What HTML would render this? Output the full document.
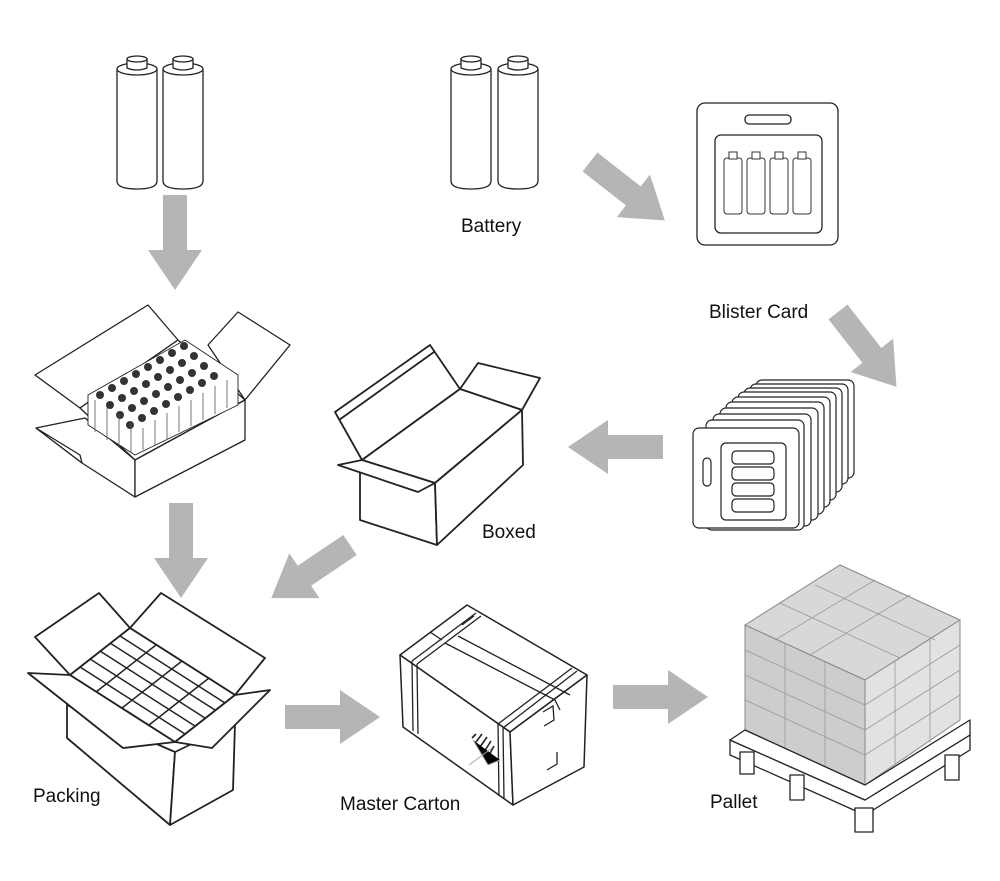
<!DOCTYPE html>
<html><head><meta charset="utf-8"><style>
html,body{margin:0;padding:0;background:#fff;}
svg{display:block}
text{font-family:"Liberation Sans",sans-serif;font-size:19px;fill:#111}
</style></head><body>
<svg width="1000" height="881" viewBox="0 0 1000 881" xmlns="http://www.w3.org/2000/svg">
<defs>
<g id="bat" fill="#fff" stroke="#222" stroke-width="1.3">
<path d="M0,14 L0,126 Q0,134 20,134 Q40,134 40,126 L40,14"/>
<ellipse cx="20" cy="14" rx="20" ry="6"/>
<path d="M10,13 L10,4 L30,4 L30,13 Q20,17 10,13Z"/>
<ellipse cx="20" cy="4" rx="10" ry="3"/>
</g>
<g id="sbat" fill="#fff" stroke="#333" stroke-width="1">
<rect x="0" y="6" width="18" height="56" rx="3"/>
<rect x="5" y="0" width="8" height="7"/>
</g>
<g id="arrow" fill="#b5b5b5">
<path d="M0,-12 L55,-12 L55,-27 L95,0 L55,27 L55,12 L0,12Z"/>
</g>
</defs>

<use href="#bat" x="117" y="55"/><use href="#bat" x="163" y="55"/>
<use href="#bat" x="451" y="55"/><use href="#bat" x="498" y="55"/>

<use href="#arrow" transform="translate(175,195) rotate(90)"/>
<use href="#arrow" transform="translate(590,162) rotate(38)"/>
<use href="#arrow" transform="translate(838,312) rotate(52)"/>
<use href="#arrow" transform="translate(663,447) rotate(180)"/>
<use href="#arrow" transform="translate(181,503) rotate(90)"/>
<use href="#arrow" transform="translate(350,545) rotate(146)"/>
<use href="#arrow" transform="translate(285,717)"/>
<use href="#arrow" transform="translate(613,697)"/>

<g fill="#fff" stroke="#222" stroke-width="1.3">
<rect x="697" y="103" width="141" height="142" rx="8"/>
<rect x="715" y="135" width="107" height="98" rx="6"/>
<rect x="745" y="115" width="46" height="9" rx="4"/>
</g>
<use href="#sbat" x="724" y="152"/><use href="#sbat" x="747" y="152"/><use href="#sbat" x="770" y="152"/><use href="#sbat" x="793" y="152"/>

<g fill="#fff" stroke="#222" stroke-width="1.2">
<rect x="756" y="380" width="98" height="98" rx="6"/>
<rect x="750" y="384" width="98" height="100" rx="6"/>
<rect x="744" y="388" width="98" height="104" rx="6"/>
<rect x="738" y="392" width="98" height="108" rx="6"/>
<rect x="732" y="397" width="98" height="110" rx="6"/>
<rect x="726" y="402" width="98" height="112" rx="6"/>
<rect x="720" y="408" width="98" height="112" rx="6"/>
<rect x="713" y="414" width="98" height="112" rx="6"/>
<rect x="706" y="420" width="98" height="110" rx="6"/>
<rect x="693" y="428" width="106" height="100" rx="6"/>
<rect x="721" y="443" width="65" height="77" rx="5"/>
<rect x="703" y="458" width="8" height="28" rx="4"/>
<rect x="732" y="451" width="42" height="13" rx="4"/>
<rect x="732" y="467" width="42" height="13" rx="4"/>
<rect x="732" y="483" width="42" height="13" rx="4"/>
<rect x="732" y="499" width="42" height="13" rx="4"/>
</g>

<g fill="#fff" stroke="#222" stroke-width="1.3" stroke-linejoin="round">
<polygon points="35,375 148,305 178,340 80,408"/>
<polygon points="208,345 238,312 290,345 245,400"/>
<polygon points="80,408 178,340 245,400 135,460"/>
<polygon points="36,428 85,418 135,460 135,497 82,463"/>
<polygon points="135,460 245,400 245,440 135,497"/>
<polygon points="36,428 80,455 82,463"/>
</g>
<g stroke="#222" stroke-width="0.9" fill="#fff">
<path d="M88,395 L185,340 L238,375 L238,405 L135,455 L88,425Z"/>
</g>
<g fill="#333">
<circle cx="100" cy="395" r="4"/><circle cx="112" cy="388" r="4"/><circle cx="124" cy="381" r="4"/><circle cx="136" cy="374" r="4"/><circle cx="148" cy="367" r="4"/><circle cx="160" cy="360" r="4"/><circle cx="172" cy="353" r="4"/><circle cx="184" cy="346" r="4"/>
<circle cx="110" cy="405" r="4"/><circle cx="122" cy="398" r="4"/><circle cx="134" cy="391" r="4"/><circle cx="146" cy="384" r="4"/><circle cx="158" cy="377" r="4"/><circle cx="170" cy="370" r="4"/><circle cx="182" cy="363" r="4"/><circle cx="194" cy="356" r="4"/>
<circle cx="120" cy="415" r="4"/><circle cx="132" cy="408" r="4"/><circle cx="144" cy="401" r="4"/><circle cx="156" cy="394" r="4"/><circle cx="168" cy="387" r="4"/><circle cx="180" cy="380" r="4"/><circle cx="192" cy="373" r="4"/><circle cx="204" cy="366" r="4"/>
<circle cx="130" cy="425" r="4"/><circle cx="142" cy="418" r="4"/><circle cx="154" cy="411" r="4"/><circle cx="166" cy="404" r="4"/><circle cx="178" cy="397" r="4"/><circle cx="190" cy="390" r="4"/><circle cx="202" cy="383" r="4"/><circle cx="214" cy="376" r="4"/>
</g>
<g stroke="#555" stroke-width="0.8">
<path d="M95,400V432M107,407V440M119,414V447M131,421V453M143,428V450M155,420V445M167,413V440M179,406V432M191,400V426M203,393V420M215,386V414M227,380V408"/>
</g>

<g fill="#fff" stroke="#222" stroke-width="1.8" stroke-linejoin="round">
<polygon points="335,412 430,345 460,389 362,460"/>
<path d="M339,420 L434,352" fill="none"/>
<polygon points="460,389 478,363 540,378 522,410"/>
<polygon points="362,460 460,389 522,410 435,483"/>
<polygon points="360,472 435,483 437,545 360,520"/>
<polygon points="435,483 522,410 523,465 437,545"/>
<polygon points="338,465 362,460 435,483 418,492"/>
</g>

<g fill="#fff" stroke="#222" stroke-width="1.8" stroke-linejoin="round">
<polygon points="35,637 99,593 130,628 70,675"/>
<polygon points="130,628 161,593 265,658 235,695"/>
<polygon points="70,675 130,628 235,695 175,742"/>
<polygon points="67,705 175,752 170,825 67,738"/>
<polygon points="175,752 235,723 233,790 170,825"/>
<polygon points="28,673 70,675 175,742 123,748"/>
<polygon points="175,742 235,695 270,690 212,748"/>
</g>
<g stroke="#222" stroke-width="1.5" fill="none">
<path d="M80,667L185,734M90,659L195,726M100,651L205,718M110,643L215,710M120,636L225,703"/>
<path d="M96,692L156,645M122,708L182,661M149,725L209,678"/>
</g>

<!-- master carton -->
<g fill="#fff" stroke="#222" stroke-width="1.5" stroke-linejoin="round">
<polygon points="400,655 467,605 587,675 510,732"/>
<polygon points="400,655 510,732 513,805 403,727"/>
<polygon points="510,732 587,675 584,767 513,805"/>
</g>
<g stroke="#222" stroke-width="1.3" fill="none">
<path d="M412,661 L476,613 M417,664 L481,616"/>
<path d="M412,661 L413,731 M417,664 L418,734"/>
<path d="M498,724 L572,668 M503,728 L577,671"/>
<path d="M498,724 L499,796 M503,728 L504,799"/>
<path d="M445,643 L555,700 L560,710 M458,636 L570,695"/>
<path d="M430,632 L442,640 M462,625 L474,616"/>
<path d="M543,712 L553,706 L554,720 L544,726 M547,770 L557,764 L557,752"/>
</g>
<g stroke="#222" stroke-width="1.6"><path d="M472,738L476,734M476,742L482,734M480,747L487,737M484,752L491,741M488,757L494,746"/></g>
<g stroke="#aaa" stroke-width="1"><path d="M473,740L488,765L500,760M469,765L492,748"/></g>

<!-- pallet -->
<g stroke="#888" stroke-width="1" fill="#d8d8d8">
<polygon points="745,625 840,565 960,620 865,680"/>
<polygon points="745,625 865,680 865,785 745,730" fill="#cdcdcd"/>
<polygon points="865,680 960,620 960,720 865,785" fill="#e2e2e2"/>
</g>
<g stroke="#999" stroke-width="0.8" fill="none">
<path d="M745,650L865,705L960,645M745,675L865,730L960,670M745,700L865,755L960,695"/>
<path d="M785,643V750M825,662V768M895,662V765M930,640V742"/>
<path d="M780,603L900,658M815,585L935,640M775,640L875,580M810,655L910,595"/>
</g>
<g fill="#fff" stroke="#222" stroke-width="1.3" stroke-linejoin="round">
<polygon points="730,740 865,800 970,735 970,750 865,815 730,755"/>
<polygon points="730,740 745,730 865,785 970,720 970,735 865,800"/>
<rect x="740" y="752" width="14" height="22"/>
<rect x="790" y="775" width="14" height="25"/>
<rect x="855" y="808" width="18" height="24"/>
<rect x="945" y="755" width="14" height="25"/>
</g>

<text x="461" y="232">Battery</text>
<text x="709" y="318">Blister Card</text>
<text x="482" y="538">Boxed</text>
<text x="33" y="802">Packing</text>
<text x="340" y="810">Master Carton</text>
<text x="710" y="808">Pallet</text>
</svg>
</body></html>
